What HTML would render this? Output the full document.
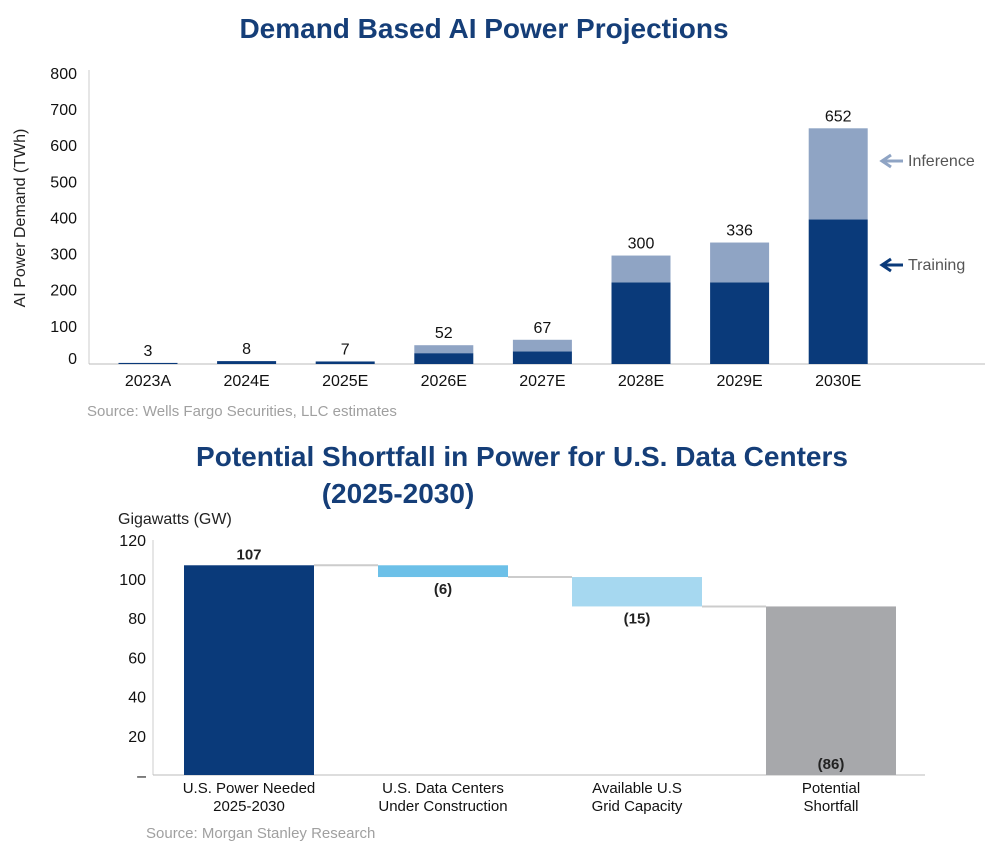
<!DOCTYPE html>
<html><head><meta charset="utf-8"><style>
body{margin:0;background:#fff;font-family:"Liberation Sans",sans-serif;}
svg text{font-family:"Liberation Sans",sans-serif;}
</style></head><body>
<svg width="985" height="849" viewBox="0 0 985 849">
<g id="c1">
<text x="484" y="38" text-anchor="middle" font-size="28" font-weight="bold" fill="#153e78">Demand Based AI Power Projections</text>
<text transform="translate(25,218) rotate(-90)" text-anchor="middle" font-size="16" fill="#222">AI Power Demand (TWh)</text>
<line x1="89" y1="70" x2="89" y2="364" stroke="#ccc"/>
<line x1="89" y1="364" x2="985" y2="364" stroke="#bbb"/>
<text x="87" y="416" font-size="15" fill="#a0a0a0">Source: Wells Fargo Securities, LLC estimates</text>
<text x="908" y="166" font-size="16" fill="#555">Inference</text>
<path d="M903 161 H884 M891 155 L882 161 L891 167" stroke="#8fa4c4" stroke-width="3" fill="none"/>
<text x="908" y="270" font-size="16" fill="#555">Training</text>
<path d="M903 265 H884 M891 259 L882 265 L891 271" stroke="#0a3a7a" stroke-width="3" fill="none"/>
</g>
<g id="c2">
<text x="522" y="466" text-anchor="middle" font-size="28" fill="#153e78" font-weight="bold">Potential Shortfall in Power for U.S. Data Centers</text>
<text x="398" y="503" text-anchor="middle" font-size="28" fill="#153e78" font-weight="bold">(2025-2030)</text>
<text x="118" y="524" font-size="16" fill="#222">Gigawatts (GW)</text>
<line x1="153" y1="540" x2="153" y2="775" stroke="#ccc"/>
<line x1="153" y1="775" x2="925" y2="775" stroke="#bbb"/>
<text x="146" y="838" font-size="15" fill="#a0a0a0">Source: Morgan Stanley Research</text>
</g>
</svg>
<script>
const NS='http://www.w3.org/2000/svg';
function mk(p,t,a,txt){const e=document.createElementNS(NS,t);for(const k in a)e.setAttribute(k,a[k]);if(txt!==undefined)e.textContent=txt;p.appendChild(e);return e;}
// chart 1 data
const years=['2023A','2024E','2025E','2026E','2027E','2028E','2029E','2030E'];
const totals=[3,8,7,52,67,300,336,652];
const training=[3,8,7,30,35,226,226,400];
const yTicks1=[0,100,200,300,400,500,600,700,800];
const c1=document.getElementById('c1');
const y1=v=>362-v*0.3615;
const x1=i=>148+i*98.6;
yTicks1.forEach(t=>{const e=mk(c1,'text',{x:77,y:y1(t)+(t===0?2:6),'text-anchor':'end','font-size':16,fill:'#111'},t);

});
years.forEach((yr,i)=>{
 const inf=totals[i]-training[i];
 const r1=mk(c1,'rect',{x:x1(i)-29.5,y:y1(training[i])+2,width:59,height:362-y1(training[i]),fill:'#0a3a7a'});
 
 
 if(inf>0){const r2=mk(c1,'rect',{x:x1(i)-29.5,y:y1(totals[i])+2,width:59,height:y1(training[i])-y1(totals[i]),fill:'#8fa4c4'});
 
 }
 const l=mk(c1,'text',{x:x1(i),y:y1(totals[i])-5,'text-anchor':'middle','font-size':16,fill:'#111'},totals[i]);
 
 
 const c=mk(c1,'text',{x:x1(i),y:386,'text-anchor':'middle','font-size':16,fill:'#111'},yr);
 
 
});
// chart 2 data
const cats=[['U.S. Power Needed','2025-2030'],['U.S. Data Centers','Under Construction'],['Available U.S','Grid Capacity'],['Potential','Shortfall']];
const steps=[107,-6,-15,86];
const labels2=['107','(6)','(15)','(86)'];
const yTicks2=[0,20,40,60,80,100,120];
const colors2=['#0a3a7a','#6cc0e8','#a6d8f0','#a7a8ab'];
const c2=document.getElementById('c2');
const y2=v=>775-v*1.96;
const x2=i=>249+i*194;
yTicks2.forEach(t=>{const e=mk(c2,'text',{x:146,y:y2(t)+6,'text-anchor':'end','font-size':16,fill:'#111'},t===0?'–':t);

});
let run=0;
steps.forEach((s,i)=>{
 let top,bot;
 if(i===0){top=s;bot=0;run=s;}
 else if(i===steps.length-1){top=s;bot=0;}
 else{top=run;bot=run+s;run=bot;}
 const r=mk(c2,'rect',{x:x2(i)-65,y:y2(top),width:130,height:y2(bot)-y2(top),fill:colors2[i]});
 
 
 if(i<steps.length-1){const ln=mk(c2,'line',{x1:x2(i)+65,x2:x2(i+1)-65,y1:y2(run),y2:y2(run),stroke:'#ccc','stroke-width':2});
 
 }
 let ly=i===0?y2(top)-6:(i===steps.length-1?y2(0)-6:y2(bot)+17);
 const l=mk(c2,'text',{x:x2(i),y:ly,'text-anchor':'middle','font-size':15,'font-weight':'bold',fill:'#222'},labels2[i]);
 
 
 cats[i].forEach((t,j)=>{const c=mk(c2,'text',{x:x2(i),y:793+j*18,'text-anchor':'middle','font-size':15,fill:'#111'},t);
 
 });
});
</script>
</body></html>
